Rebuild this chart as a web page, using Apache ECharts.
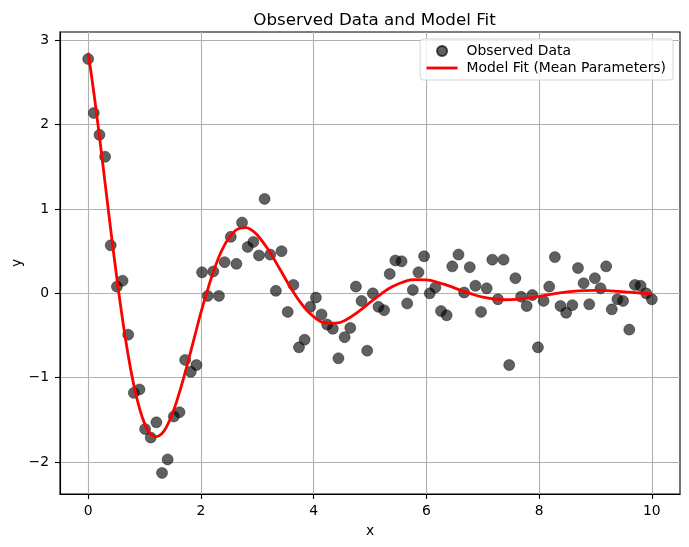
<!DOCTYPE html>
<html>
<head>
<meta charset="utf-8">
<script src="https://cdn.jsdelivr.net/npm/echarts@6/dist/echarts.min.js"></script>
<style>html,body{margin:0;padding:0;background:#fff;}#c{width:689px;height:547px;}</style>
</head>
<body>
<div id="c"></div>
<script>
const xObs = [0.00,0.10,0.20,0.30,0.40,0.51,0.61,0.71,0.81,0.91,1.01,1.11,1.21,1.31,1.41,1.52,1.62,1.72,1.82,1.92,
2.02,2.12,2.22,2.32,2.42,2.53,2.63,2.73,2.83,2.93,3.03,3.13,3.23,3.33,3.43,3.54,3.64,3.74,3.84,3.94,
4.04,4.14,4.24,4.34,4.44,4.55,4.65,4.75,4.85,4.95,5.05,5.15,5.25,5.35,5.45,5.56,5.66,5.76,5.86,5.96,
6.06,6.16,6.26,6.36,6.46,6.57,6.67,6.77,6.87,6.97,7.07,7.17,7.27,7.37,7.47,7.58,7.68,7.78,7.88,7.98,
8.08,8.18,8.28,8.38,8.48,8.59,8.69,8.79,8.89,8.99,9.09,9.19,9.29,9.39,9.49,9.60,9.70,9.80,9.90,10.00];
const yObs = [2.78,2.14,1.88,1.62,0.57,0.08,0.15,-0.49,-1.18,-1.14,-1.61,-1.71,-1.53,-2.13,-1.97,-1.46,-1.41,-0.79,-0.93,-0.85,
0.25,-0.03,0.26,-0.03,0.37,0.67,0.35,0.84,0.55,0.61,0.45,1.12,0.46,0.03,0.50,-0.22,0.10,-0.64,-0.55,-0.16,
-0.05,-0.25,-0.37,-0.42,-0.77,-0.52,-0.41,0.08,-0.09,-0.68,0.00,-0.16,-0.20,0.23,0.39,0.38,-0.12,0.04,0.25,0.44,
0.00,0.07,-0.21,-0.26,0.32,0.46,0.01,0.31,0.09,-0.22,0.06,0.40,-0.07,0.40,-0.85,0.18,-0.04,-0.15,-0.02,-0.64,
-0.09,0.08,0.43,-0.15,-0.23,-0.14,0.30,0.12,-0.13,0.18,0.06,0.32,-0.19,-0.07,-0.09,-0.43,0.10,0.09,0.00,-0.07];
const xFit = [0,0.1,0.2,0.3,0.4,0.5,0.6,0.7,0.8,0.9,1.0,1.1,1.2,1.3,1.4,1.5,1.6,1.7,1.8,1.9,
2.0,2.1,2.2,2.3,2.4,2.5,2.6,2.7,2.8,2.9,3.0,3.2,3.4,3.6,3.8,4.0,4.2,4.4,4.6,4.8,
5.0,5.2,5.4,5.6,5.8,6.0,6.2,6.4,6.6,6.8,7.0,7.2,7.4,7.6,7.8,8.0,8.2,8.4,8.6,8.8,
9.0,9.2,9.4,9.6,9.8,10.0];
const yFit = [2.853,2.382,1.858,1.308,0.755,0.226,-0.263,-0.695,-1.056,-1.339,-1.542,-1.663,-1.703,-1.669,-1.570,-1.416,-1.217,-0.987,-0.738,-0.482,
-0.230,0.000,0.214,0.399,0.549,0.659,0.737,0.775,0.780,0.750,0.692,0.514,0.288,0.059,-0.138,-0.277,-0.349,-0.354,-0.303,-0.214,
-0.108,-0.005,0.080,0.137,0.163,0.159,0.131,0.088,0.039,-0.007,-0.044,-0.067,-0.076,-0.071,-0.056,-0.035,-0.013,0.008,0.023,0.032,
0.035,0.032,0.024,0.014,0.004,-0.005];
const xTicks = [0,2,4,6,8,10];
const yTicks = [-2,-1,0,1,2,3];

const FONT = 'DejaVu Sans';
const FS = 13.9;
const fmt = v => String(Math.round(v)).replace('-', '\u2212');
const chart = echarts.init(document.getElementById('c'), null, {renderer:'canvas'});
const axisLine = {show:true,onZero:false,lineStyle:{color:'#000',width:1.1}};
const splitLine = {show:true,lineStyle:{color:'#b0b0b0',width:1.1}};
const nameTextStyle = {fontFamily:FONT,fontSize:FS,color:'#000'};
chart.setOption({
  animation:false,
  title:{text:'Observed Data and Model Fit',left:369.5,textAlign:'center',top:7,
    textStyle:{fontFamily:FONT,fontSize:16.7,fontWeight:'normal',color:'#000'}},
  grid:{left:60,right:9,top:32,bottom:53,show:true,borderColor:'#000',borderWidth:1.1,
    containLabel:false,outerBoundsMode:'none'},
  legend:{orient:'vertical',right:16,top:39,padding:[5,7,5,5],itemGap:3,itemWidth:31,itemHeight:10,
    borderColor:'#d5d5d5',borderWidth:1,borderRadius:3,backgroundColor:'rgba(255,255,255,0.8)',
    textStyle:{fontFamily:FONT,fontSize:FS,color:'#000',padding:[0,0,0,4]},
    data:[{name:'Observed Data'},
          {name:'Model Fit (Mean Parameters)',itemStyle:{opacity:0},lineStyle:{width:2.8}}]},
  xAxis:{type:'value',min:-0.5,max:10.5,name:'x',nameLocation:'middle',nameGap:30,nameMoveOverlap:false,
    axisLine:axisLine,splitLine:splitLine,nameTextStyle:nameTextStyle,
    axisLabel:{customValues:xTicks,formatter:fmt,margin:10,fontFamily:FONT,fontSize:FS,color:'#000'},
    axisTick:{customValues:xTicks,inside:false,length:5,lineStyle:{color:'#000',width:1.1}}},
  yAxis:{type:'value',min:-2.38,max:3.10,name:'y',nameLocation:'middle',nameGap:36,nameMoveOverlap:false,
    axisLine:axisLine,splitLine:splitLine,nameTextStyle:nameTextStyle,
    axisLabel:{customValues:yTicks,formatter:fmt,margin:11,fontFamily:FONT,fontSize:FS,color:'#000'},
    axisTick:{customValues:yTicks,inside:false,length:5,lineStyle:{color:'#000',width:1.1}}},
  series:[
    {name:'Observed Data',type:'scatter',symbol:'circle',symbolSize:11,
     itemStyle:{color:'rgba(0,0,0,0.78)',borderColor:'rgba(0,0,0,0.85)',borderWidth:0.6},
     data:xObs.map((x,i)=>[x,yObs[i]])},
    {name:'Model Fit (Mean Parameters)',type:'line',symbol:'none',smooth:true,
     lineStyle:{color:'#ff0000',width:2.8},itemStyle:{color:'#ff0000'},
     data:xFit.map((x,i)=>[x,yFit[i]])}
  ]
});
</script>
</body>
</html>
